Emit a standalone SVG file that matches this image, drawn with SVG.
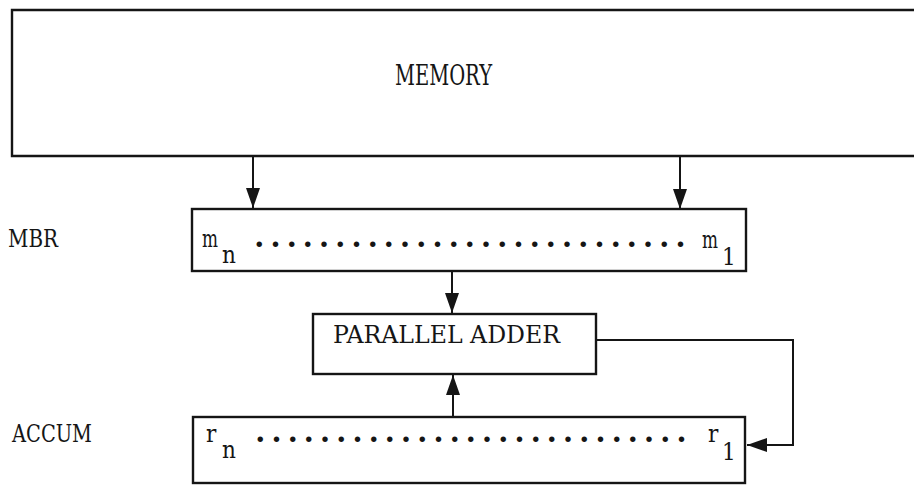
<svg xmlns="http://www.w3.org/2000/svg" width="914" height="485" viewBox="0 0 914 485">
<style>
.box{fill:none;stroke:#151515;stroke-width:2.4}
.conn{fill:none;stroke:#151515;stroke-width:2}
.t{font-family:"DejaVu Serif","Liberation Serif",serif;font-stretch:condensed;font-size:24px;fill:#151515}
.big{font-size:27px}
.dots{font-family:"Liberation Serif","DejaVu Serif",serif;font-size:34px;font-weight:bold;fill:#151515;letter-spacing:7.7px}
</style>
<defs>
<marker id="ah" viewBox="0 0 20 14" refX="20" refY="7" markerWidth="20" markerHeight="14" markerUnits="userSpaceOnUse" orient="auto">
<path d="M0,0 L20,7 L0,14 z" fill="#151515"/>
</marker>
</defs>
<rect width="914" height="485" fill="#ffffff"/>
<g id="memory">
<path class="box" d="M920,10 H12 V156 H920"/>
<text class="t big" x="395" y="85" textLength="97" lengthAdjust="spacingAndGlyphs">MEMORY</text>
</g>
<g id="mbr">
<text class="t" x="8" y="247" textLength="50" lengthAdjust="spacingAndGlyphs">MBR</text>
<rect class="box" x="192" y="209" width="554" height="62"/>
<text class="t" x="202" y="247" textLength="16" lengthAdjust="spacingAndGlyphs">m</text>
<text class="t" x="222" y="263">n</text>
<text class="dots" x="255" y="247">...........................</text>
<text class="t" x="702" y="248" textLength="16" lengthAdjust="spacingAndGlyphs">m</text>
<text class="t" x="722" y="265">1</text>
</g>
<g id="adder">
<rect class="box" x="313" y="314" width="283" height="60"/>
<text class="t" x="333" y="343" textLength="227" lengthAdjust="spacingAndGlyphs">PARALLEL ADDER</text>
</g>
<g id="accum">
<text class="t" x="12" y="442" textLength="80" lengthAdjust="spacingAndGlyphs">ACCUM</text>
<rect class="box" x="193" y="417" width="552" height="66"/>
<text class="t" x="206" y="442">r</text>
<text class="t" x="222" y="458">n</text>
<text class="dots" x="256" y="442">...........................</text>
<text class="t" x="708" y="442">r</text>
<text class="t" x="722" y="460">1</text>
</g>
<g id="connectors">
<path class="conn" d="M253,157 V208" marker-end="url(#ah)"/>
<path class="conn" d="M680,157 V209" marker-end="url(#ah)"/>
<path class="conn" d="M452,272 V313" marker-end="url(#ah)"/>
<path class="conn" d="M453,416 V375" marker-end="url(#ah)"/>
<path class="conn" d="M597,340 H793 V445 H747" marker-end="url(#ah)"/>
</g>
</svg>
